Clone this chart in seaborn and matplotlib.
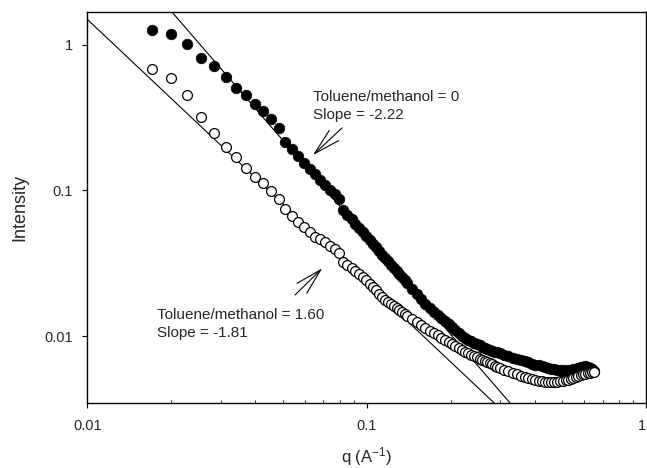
import numpy as np
import matplotlib
matplotlib.use("Agg")
import matplotlib.pyplot as plt
import seaborn as sns
from matplotlib.ticker import FixedLocator, FixedFormatter, LogLocator, NullLocator, NullFormatter

# q values (A^-1), same grid for both samples
q_low = [0.0170, 0.0199, 0.0227, 0.0256, 0.0284, 0.0313, 0.0341, 0.0370, 0.0398, 0.0427,
         0.0455, 0.0484, 0.0512, 0.0541, 0.0569, 0.0598, 0.0626, 0.0655, 0.0683, 0.0712,
         0.0740, 0.0769, 0.0797]
q_mid = [0.0826, 0.0854, 0.0883, 0.0911, 0.0940, 0.0968, 0.0997, 0.1025, 0.1054, 0.1082,
         0.1111, 0.1139, 0.1168, 0.1196, 0.1225, 0.1253, 0.1282, 0.1310, 0.1339, 0.1367,
         0.1396]
q_high = [0.1453, 0.1510, 0.1567, 0.1624, 0.1681, 0.1738, 0.1795, 0.1852, 0.1909, 0.1966,
          0.2023, 0.2080, 0.2137, 0.2194, 0.2251, 0.2308, 0.2365, 0.2422, 0.2479, 0.2536,
          0.2593, 0.2650, 0.2707, 0.2764, 0.2821, 0.2878, 0.2935, 0.2992]
q_tail = [0.3106, 0.3220, 0.3334, 0.3448, 0.3562, 0.3676, 0.3790, 0.3904, 0.4018, 0.4132,
          0.4246, 0.4360, 0.4474, 0.4588, 0.4702, 0.4816, 0.4930, 0.5044, 0.5158, 0.5272,
          0.5386, 0.5500, 0.5614, 0.5728, 0.5842, 0.5956, 0.6070, 0.6184, 0.6298, 0.6412,
          0.6526]

# toluene/methanol = 0 (filled circles)
I0_low = [1.27, 1.19, 1.02, 0.81, 0.72, 0.60, 0.51, 0.45, 0.39, 0.35,
          0.31, 0.27, 0.215, 0.192, 0.172, 0.155, 0.141, 0.129, 0.118, 0.109,
          0.101, 0.094, 0.088]
I0_mid = [0.0735, 0.0683, 0.0634, 0.0592, 0.0553, 0.0518, 0.0486, 0.0457, 0.0430, 0.0406,
          0.0383, 0.0362, 0.0343, 0.0326, 0.0309, 0.0294, 0.0279, 0.0266, 0.0254, 0.0243,
          0.0232]
I0_high = [0.0212, 0.0195, 0.0179, 0.0167, 0.01565, 0.0147, 0.01394, 0.01325, 0.01261, 0.01201,
           0.01147, 0.0110, 0.0105, 0.01008, 0.00969, 0.00945, 0.00922, 0.00901, 0.00883, 0.00864,
           0.00846, 0.00827, 0.00815, 0.00804, 0.00793, 0.00782, 0.00772, 0.00762]
I0_tail = [0.00740, 0.00725, 0.00710, 0.00696, 0.00683, 0.00670, 0.00658, 0.00647, 0.00637, 0.00628,
           0.00619, 0.00611, 0.00604, 0.00598, 0.00592, 0.00587, 0.00583, 0.00580, 0.00578, 0.00580,
           0.00584, 0.00589, 0.00595, 0.00602, 0.00610, 0.00617, 0.00621, 0.00614, 0.00603, 0.00590,
           0.00578]

# toluene/methanol = 1.60 (open circles)
I1_low = [0.684, 0.593, 0.453, 0.320, 0.248, 0.199, 0.170, 0.143, 0.124, 0.1126,
          0.0992, 0.0874, 0.0745, 0.0668, 0.0612, 0.0565, 0.0520, 0.0482, 0.0462, 0.0440,
          0.0418, 0.0396, 0.0372]
I1_mid = [0.0325, 0.0308, 0.0293, 0.0279, 0.0265, 0.0253, 0.0241, 0.02285, 0.02164, 0.02056,
          0.01954, 0.01862, 0.01773, 0.01713, 0.01656, 0.01603, 0.01550, 0.01503, 0.01457, 0.01413,
          0.01378]
I1_high = [0.01303, 0.01241, 0.01185, 0.01135, 0.01089, 0.01048, 0.01009, 0.00973, 0.00939, 0.00908,
           0.00878, 0.00851, 0.00824, 0.00800, 0.00776, 0.00759, 0.00743, 0.00728, 0.00714, 0.00699,
           0.00686, 0.00673, 0.00661, 0.00649, 0.00638, 0.00627, 0.00616, 0.00606]
I1_tail = [0.00587, 0.00572, 0.00559, 0.00547, 0.00535, 0.00523, 0.00516, 0.00508, 0.00501, 0.00494,
           0.00488, 0.00483, 0.00481, 0.00480, 0.00481, 0.00483, 0.00487, 0.00491, 0.00496, 0.00502,
           0.00510, 0.00518, 0.00525, 0.00532, 0.00538, 0.00544, 0.00550, 0.00555, 0.00560, 0.00563,
           0.00565]

q = q_low + q_mid + q_high + q_tail
I_0 = I0_low + I0_mid + I0_high + I0_tail
I_160 = I1_low + I1_mid + I1_high + I1_tail

# power-law fits  I = A * q^slope
fit_slope = [-2.22, -1.81]
fit_A = [2.88e-4, 3.60e-4]

sns.set_style("ticks")
plt.rcParams["font.family"] = ["Liberation Sans", "DejaVu Sans"]
plt.rcParams["mathtext.default"] = "regular"

fig = plt.figure(figsize=(6.47, 4.68), dpi=100)
ax = fig.add_axes([0.1349, 0.1395, 0.8635, 0.8342])

q_fit = np.array([0.01, 1.0])
for s, a in zip(fit_slope, fit_A):
    sns.lineplot(x=q_fit, y=a * q_fit ** s, ax=ax, color="black", lw=0.8, zorder=1)

sns.scatterplot(x=q, y=I_0, ax=ax, color="black", edgecolor="black", s=58, linewidth=0.5, zorder=3)
sns.scatterplot(x=q, y=I_160, ax=ax, color="white", edgecolor="black", s=50, linewidth=0.9, zorder=4)

ax.set_xscale("log")
ax.set_yscale("log")
ax.set_xlim(0.01, 1.0)
ax.set_ylim(0.00348, 1.677)

ax.xaxis.set_major_locator(FixedLocator([0.01, 0.1, 1]))
ax.xaxis.set_major_formatter(FixedFormatter(["0.01", "0.1", "1"]))
ax.xaxis.set_minor_locator(LogLocator(base=10, subs=[2, 3, 4, 5, 6, 7, 8, 9]))
ax.xaxis.set_minor_formatter(NullFormatter())
ax.yaxis.set_major_locator(FixedLocator([0.01, 0.1, 1]))
ax.yaxis.set_major_formatter(FixedFormatter(["0.01", "0.1", "1"]))
ax.yaxis.set_minor_locator(NullLocator())

ax.tick_params(which="major", direction="out", length=3.6, width=0.8, labelsize=10.5, color="black")
ax.tick_params(axis="x", which="major", pad=8)
ax.tick_params(axis="y", which="major", pad=7)
ax.tick_params(axis="x", which="minor", direction="in", length=2.2, width=0.7)
for sp in ax.spines.values():
    sp.set_linewidth(1.0)
    sp.set_color("black")

# the last x label sits on the figure edge; keep it inside
fig.canvas.draw()
ax.get_xticklabels()[-1].set_horizontalalignment("right")

ax.set_xlabel("q (A$^{-1}$)", fontsize=12)
ax.set_ylabel("Intensity", fontsize=13)
ax.xaxis.set_label_coords(0.5, -0.108)
ax.yaxis.set_label_coords(-0.106, 0.5)

# annotations
ax.text(0.404, 0.7728, "Toluene/methanol = 0", transform=ax.transAxes, fontsize=11, va="baseline")
ax.text(0.404, 0.7259, "Slope = -2.22", transform=ax.transAxes, fontsize=11, va="baseline")
ax.text(0.1242, 0.2136, "Toluene/methanol = 1.60", transform=ax.transAxes, fontsize=11, va="baseline")
ax.text(0.1242, 0.1683, "Slope = -1.81", transform=ax.transAxes, fontsize=11, va="baseline")

arrow = dict(arrowstyle="->,head_length=1.9,head_width=0.5", lw=0.8, color="black",
             shrinkA=0, shrinkB=0, mutation_scale=10)
ax.annotate("", xy=(0.404, 0.6345), xytext=(0.456, 0.7036), xycoords="axes fraction", arrowprops=arrow)
ax.annotate("", xy=(0.4206, 0.3443), xytext=(0.3718, 0.2759), xycoords="axes fraction", arrowprops=arrow)

fig.savefig("out.png", dpi=100)
